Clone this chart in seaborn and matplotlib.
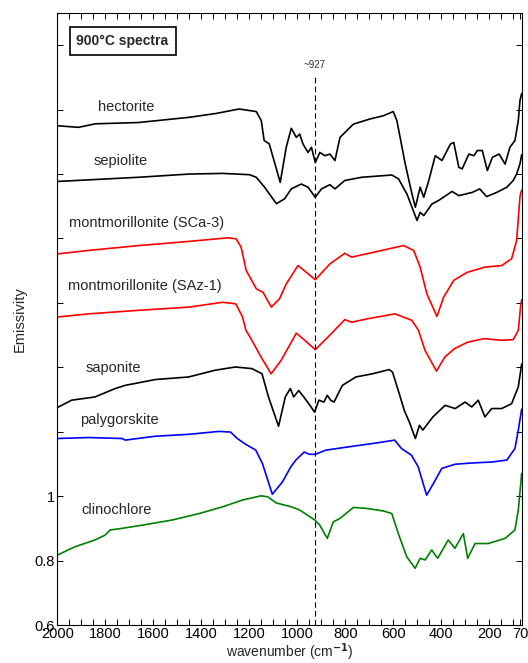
import numpy as np
import pandas as pd
import matplotlib
matplotlib.use("Agg")
import matplotlib.pyplot as plt
import seaborn as sns
from matplotlib.ticker import MultipleLocator

# emissivity spectra (wavenumber in cm-1, emissivity offset for display)
hectorite_wn = [2000, 1912, 1841, 1661, 1452, 1339, 1242, 1171, 1150, 1138, 1117, 1071, 1046, 1025,
                1004, 990, 976, 955, 941, 925, 906, 885, 864, 843, 822, 766, 697, 641, 600, 585,
                550, 522, 508, 488, 473, 452, 425, 397, 362, 348, 327, 313, 285, 264, 250, 229,
                208, 187, 159, 134, 114, 93, 79, 72, 65]
hectorite_em = [2.150, 2.145, 2.156, 2.160, 2.176, 2.188, 2.202, 2.194, 2.166, 2.104, 2.094, 1.974,
                2.083, 2.142, 2.114, 2.124, 2.093, 2.067, 2.083, 2.036, 2.067, 2.057, 2.062, 2.042,
                2.114, 2.155, 2.171, 2.181, 2.194, 2.166, 2.031, 1.938, 1.897, 1.959, 1.928, 1.980,
                2.057, 2.042, 2.093, 2.098, 2.021, 2.016, 2.062, 2.057, 2.073, 2.073, 2.011, 2.052,
                2.062, 2.031, 2.083, 2.104, 2.166, 2.228, 2.25]

sepiolite_wn = [2000, 1869, 1661, 1450, 1311, 1199, 1171, 1136, 1087, 1053, 1025, 983, 955, 925,
                899, 864, 843, 802, 732, 606, 578, 543, 522, 501, 488, 473, 439, 411, 355, 327,
                271, 240, 211, 169, 127, 100, 86, 72, 65]
sepiolite_em = [1.977, 1.982, 1.990, 2.000, 2.002, 1.998, 1.990, 1.959, 1.908, 1.923, 1.954, 1.969,
                1.959, 1.928, 1.954, 1.967, 1.954, 1.980, 1.990, 1.997, 1.985, 1.938, 1.897, 1.856,
                1.881, 1.871, 1.907, 1.918, 1.946, 1.933, 1.943, 1.954, 1.930, 1.943, 1.959, 1.980,
                2.000, 2.032, 2.06]

sca3_wn = [2000, 1869, 1660, 1450, 1290, 1255, 1234, 1213, 1171, 1143, 1108, 1074, 1046, 997, 962,
           925, 864, 802, 774, 683, 557, 515, 488, 460, 418, 390, 348, 292, 218, 148, 107, 86, 72, 65]
sca3_em = [1.752, 1.763, 1.778, 1.791, 1.802, 1.799, 1.773, 1.701, 1.644, 1.633, 1.587, 1.613,
           1.659, 1.716, 1.695, 1.672, 1.721, 1.754, 1.742, 1.757, 1.778, 1.763, 1.711, 1.628,
           1.558, 1.618, 1.670, 1.695, 1.711, 1.716, 1.737, 1.794, 1.93, 1.95]

saz1_wn = [2000, 1869, 1660, 1450, 1311, 1256, 1228, 1214, 1193, 1151, 1109, 1067, 1004, 969, 925,
           872, 802, 774, 705, 593, 523, 495, 468, 420, 385, 345, 290, 222, 152, 100, 79, 69, 65]
saz1_em = [1.556, 1.566, 1.577, 1.587, 1.602, 1.597, 1.556, 1.515, 1.489, 1.432, 1.380, 1.422,
           1.506, 1.484, 1.455, 1.494, 1.548, 1.540, 1.551, 1.566, 1.546, 1.515, 1.453, 1.388,
           1.432, 1.458, 1.478, 1.489, 1.484, 1.486, 1.515, 1.592, 1.61]

saponite_wn = [2000, 1940, 1843, 1759, 1717, 1592, 1453, 1342, 1258, 1189, 1147, 1120, 1078, 1050,
               1029, 1015, 994, 973, 952, 928, 910, 889, 875, 861, 847, 812, 756, 686, 617, 603,
               575, 554, 533, 508, 491, 477, 435, 384, 342, 301, 273, 246, 218, 190, 148, 107, 79, 65]
saponite_em = [1.275, 1.298, 1.308, 1.334, 1.344, 1.362, 1.370, 1.391, 1.401, 1.396, 1.380, 1.308,
               1.217, 1.308, 1.334, 1.308, 1.328, 1.308, 1.287, 1.261, 1.298, 1.292, 1.313, 1.298,
               1.292, 1.344, 1.370, 1.380, 1.393, 1.385, 1.318, 1.266, 1.230, 1.179, 1.220, 1.205,
               1.246, 1.282, 1.272, 1.292, 1.277, 1.298, 1.246, 1.272, 1.272, 1.287, 1.339, 1.41]

palygorskite_wn = [2000, 1870, 1730, 1717, 1592, 1452, 1327, 1278, 1250, 1215, 1173, 1145, 1104,
                   1062, 1027, 1006, 971, 950, 925, 880, 768, 671, 594, 566, 524, 496, 461, 433,
                   398, 343, 273, 190, 127, 93, 79, 65]
palygorskite_em = [1.179, 1.182, 1.179, 1.174, 1.186, 1.192, 1.201, 1.199, 1.179, 1.161, 1.143,
                   1.101, 1.006, 1.044, 1.091, 1.112, 1.137, 1.130, 1.130, 1.143, 1.155, 1.165,
                   1.174, 1.148, 1.127, 1.091, 1.003, 1.039, 1.086, 1.099, 1.103, 1.106, 1.112,
                   1.148, 1.205, 1.27]

clinochlore_wn = [2000, 1926, 1843, 1801, 1780, 1730, 1646, 1521, 1409, 1311, 1228, 1151, 1123,
                  1088, 1025, 990, 927, 906, 875, 850, 822, 766, 711, 641, 606, 579, 544, 509,
                  488, 467, 440, 415, 371, 343, 308, 290, 259, 204, 134, 93, 79, 65]
clinochlore_em = [0.817, 0.843, 0.864, 0.879, 0.895, 0.900, 0.910, 0.926, 0.946, 0.967, 0.988,
                  1.001, 0.998, 0.979, 0.967, 0.957, 0.926, 0.910, 0.869, 0.920, 0.931, 0.965,
                  0.962, 0.954, 0.946, 0.884, 0.812, 0.776, 0.807, 0.802, 0.833, 0.807, 0.864,
                  0.838, 0.884, 0.807, 0.853, 0.853, 0.869, 0.895, 0.957, 1.07]

minerals = ["hectorite", "sepiolite", "montmorillonite (SCa-3)", "montmorillonite (SAz-1)",
            "saponite", "palygorskite", "clinochlore"]
colors = ["black", "black", "#ff0000", "#ff0000", "black", "#0000ff", "#008000"]
spectra = [(hectorite_wn, hectorite_em), (sepiolite_wn, sepiolite_em), (sca3_wn, sca3_em),
           (saz1_wn, saz1_em), (saponite_wn, saponite_em),
           (palygorskite_wn, palygorskite_em), (clinochlore_wn, clinochlore_em)]

# label anchors (wavenumber, emissivity baseline)
label_wn = [1714, 1737, 1630, 1635, 1768, 1741, 1751]
label_em = [2.197, 2.029, 1.837, 1.639, 1.385, 1.223, 0.944]

marker_wn = 927

frames = []
for name, (wn, em) in zip(minerals, spectra):
    frames.append(pd.DataFrame({"wavenumber": wn, "emissivity": em, "mineral": name}))
df = pd.concat(frames, ignore_index=True)

sns.set_style("ticks")
plt.rcParams["font.family"] = ["Liberation Sans", "DejaVu Sans"]

fig = plt.figure(figsize=(5.28, 6.63), dpi=100)
ax = fig.add_axes([0.1085, 0.0573, 0.8795, 0.9231])

sns.lineplot(data=df, x="wavenumber", y="emissivity", hue="mineral", hue_order=minerals,
             palette=dict(zip(minerals, colors)), estimator=None, sort=False,
             legend=False, linewidth=1.2, ax=ax)

for name, x, y in zip(minerals, label_wn, label_em):
    ax.text(x, y, name, ha="center", va="baseline", fontsize=10.5)

ax.vlines(marker_wn, 0.6, 2.30, colors="black", linestyles=(0, (5, 3)), linewidth=0.8)
ax.text(marker_wn, 2.33, "~927", ha="center", va="baseline", fontsize=7, color="#333333")

ax.text(1920, 2.412, "900°C spectra", ha="left", va="center", fontsize=10, fontweight="bold",
        bbox=dict(boxstyle="square,pad=0.5", fc="white", ec="black", lw=1.2))

ax.set_xlim(2000, 65)
ax.set_ylim(0.6, 2.5)
xt = [2000, 1800, 1600, 1400, 1200, 1000, 800, 600, 400, 200, 70]
ax.set_xticks(xt)
ax.set_xticklabels([str(v) for v in xt])
ax.xaxis.set_minor_locator(MultipleLocator(50))
yt = np.round(np.arange(0.6, 2.41, 0.2), 1)
ax.set_yticks(yt)
ax.set_yticklabels(["0.6", "0.8", "1"] + [""] * (len(yt) - 3))

ax.tick_params(which="both", direction="in", top=True, right=True, length=4.3, width=0.7,
               labelsize=10.5, pad=1.5, colors="black")
for s in ax.spines.values():
    s.set_linewidth(0.8)
    s.set_color("black")

ax.set_xlabel(r"wavenumber (cm$^{\mathbf{-1}}$)", fontsize=10, labelpad=0.5)
ax.set_ylabel("Emissivity", fontsize=10.5, labelpad=6)

fig.savefig("out.png", dpi=100)
